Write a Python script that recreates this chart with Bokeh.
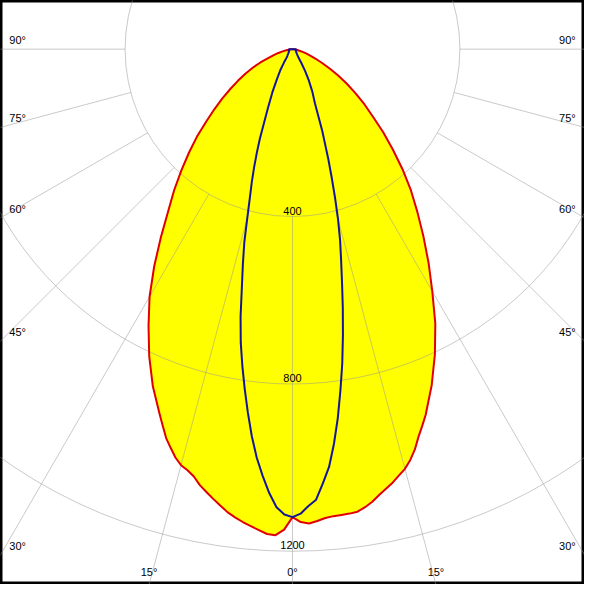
import math
from bokeh.plotting import figure
from bokeh.models import Range1d
from bokeh.embed import file_html
from bokeh.resources import INLINE
from bokeh.core.properties import value

# gamma angles (degrees from nadir): 1 deg steps to 20, then 2.5 deg steps to 90
gamma = list(range(0, 21)) + [22.5 + 2.5 * i for i in range(28)]

# C0 (right, red)
c0 = [1118, 1130, 1134, 1129, 1123, 1120, 1119, 1118, 1116, 1108, 1098,
      1085, 1074, 1063, 1050, 1038, 1021, 1000, 974, 952, 930,
      869, 805, 739, 668, 605, 545, 490, 440, 389, 339, 294, 251, 217, 184,
      154, 126, 100, 78, 60, 45, 34, 25, 17, 12, 7, 4, 2, 0]
# C180 (left, red)
c180 = [1118, 1148, 1162, 1160, 1152, 1144, 1136, 1127, 1117, 1104, 1091,
        1078, 1065, 1048, 1037, 1029, 1015, 996, 977, 952, 928,
        872, 810, 745, 683, 615, 548, 488, 440, 393, 350, 310, 269, 235, 204,
        175, 150, 127, 105, 83, 62, 47, 35, 24, 15, 9, 5, 2, 0]
# C90 (right, blue)
c90 = [1118, 1110, 1092, 1078, 1040, 1002, 948, 888, 823, 760, 694,
       630, 569, 516, 470, 420, 368, 320, 278, 238, 208,
       140, 112, 85, 60, 40, 27, 21, 18, 16, 14, 13, 12, 11, 11,
       10, 10, 9, 9, 9, 8, 8, 8, 8, 8, 8, 8, 8, 8]
# C270 (left, blue)
c270 = [1118, 1112, 1095, 1062, 1022, 980, 930, 875, 820, 766, 712,
        650, 582, 527, 476, 417, 370, 333, 297, 262, 228,
        155, 114, 80, 59, 38, 24, 20, 18, 16, 14, 13, 12, 11, 11,
        10, 10, 9, 9, 9, 8, 8, 8, 8, 8, 8, 8, 8, 8]

ring_values = [400, 800, 1200, 1600]
ring_labels = ["400", "800", "1200"]
side_angle_ticks = [30, 45, 60, 75, 90]
bottom_angle_ticks = [15, 0]
radial_angles = [0, 15, 30, 45, 60, 75, 90]

K = 0.43            # reference px per cd
X_HALF = 300 / K
Y_TOP = 50 / K
Y_BOT = -550 / K


def polar(gam, vals, sign):
    xs = [sign * v * math.sin(math.radians(g)) for g, v in zip(gam, vals)]
    ys = [-v * math.cos(math.radians(g)) for g, v in zip(gam, vals)]
    return xs, ys


p = figure(width=584, height=584,
           x_range=Range1d(-X_HALF, X_HALF), y_range=Range1d(Y_BOT, Y_TOP),
           output_backend="svg", toolbar_location=None,
           x_axis_location=None, y_axis_location=None, min_border=0)
p.grid.visible = False
p.outline_line_color = "black"
p.outline_line_width = 4
p.background_fill_color = "white"
p.border_fill_color = "white"

# red curve (C0-C180) filled yellow
rx, ry = polar(gamma, c0, 1)
lx, ly = polar(gamma, c180, -1)
red_x = rx + lx[::-1]
red_y = ry + ly[::-1]
p.patch(red_x, red_y, fill_color="#ffff00", line_color=None)

# grid
grid_color = "#969696"
grid_alpha = 0.5
p.circle(x=[0] * len(ring_values), y=[0] * len(ring_values), radius=ring_values,
         fill_color=None, line_color=grid_color, line_alpha=grid_alpha, line_width=1)
x0s, y0s, x1s, y1s = [], [], [], []
for a in radial_angles:
    for s in ([1] if a == 0 else [1, -1]):
        sa, ca = math.sin(math.radians(a)), math.cos(math.radians(a))
        x0s.append(s * ring_values[0] * sa); y0s.append(-ring_values[0] * ca)
        x1s.append(s * 3000 * sa); y1s.append(-3000 * ca)
p.segment(x0s, y0s, x1s, y1s, line_color=grid_color, line_alpha=grid_alpha, line_width=1)

# red outline
p.line(red_x + [red_x[0]], red_y + [red_y[0]], line_color="#e00000", line_width=2,
       line_join="round")

# blue curve (C90-C270)
bx, by = polar(gamma, c90, 1)
blx, bly = polar(gamma, c270, -1)
blue_x = bx + blx[::-1]
blue_y = by + bly[::-1]
p.line(blue_x + [blue_x[0]], blue_y + [blue_y[0]], line_color="#14149a", line_width=2,
       line_join="round")

font = value("Liberation Sans")
fs = "11px"

# ring labels
p.text(x=[0] * len(ring_labels), y=[-int(t) + 2 / K for t in ring_labels], text=ring_labels,
       text_font=font, text_font_size=fs, text_align="center", text_baseline="bottom",
       text_color="black")

# side angle labels
ly_pos = []
for a in side_angle_ticks:
    if a == 90:
        yy = 0
    else:
        yy = -X_HALF / math.tan(math.radians(a))
    ly_pos.append(yy + 3 / K)
labels = [f"{a}°" for a in side_angle_ticks]
p.text(x=[-X_HALF + 9 / K] * len(labels), y=ly_pos, text=labels, text_font=font,
       text_font_size=fs, text_align="left", text_baseline="bottom", text_color="black")
p.text(x=[X_HALF - 9 / K] * len(labels), y=ly_pos, text=labels, text_font=font,
       text_font_size=fs, text_align="right", text_baseline="bottom", text_color="black")

# bottom angle labels
bx_pos, by_pos, bt = [], [], []
for a in bottom_angle_ticks:
    xx = -Y_BOT * math.tan(math.radians(a))
    for s in ([1] if a == 0 else [-1, 1]):
        bx_pos.append(s * xx); by_pos.append(Y_BOT + 7 / K); bt.append(f"{a}°")
p.text(x=bx_pos, y=by_pos, text=bt, text_font=font, text_font_size=fs,
       text_align="center", text_baseline="bottom", text_color="black")

open("out.html", "w").write(file_html(p, INLINE))
